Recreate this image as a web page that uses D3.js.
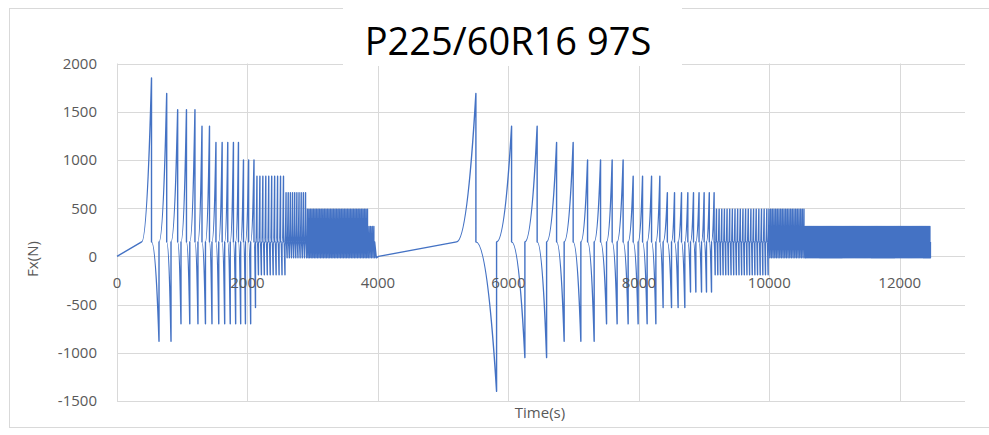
<!DOCTYPE html>
<html>
<head>
<meta charset="utf-8">
<script src="https://cdn.jsdelivr.net/npm/d3@7"></script>
<style>
body { margin: 0; background: #fff; }
text { font-family: "Open Sans", sans-serif; fill: #595959; }
</style>
</head>
<body>
<svg id="chart" width="989" height="435"></svg>
<script>
'use strict'

// axis ticks
const xTicks = [0, 2000, 4000, 6000, 8000, 10000, 12000]
const yTicks = [-1500, -1000, -500, 0, 500, 1000, 1500, 2000]

// level the force sits at between the spikes (N)
const baseForce = 150

// lead-in ramp (time s, Fx N)
const rampT = [0, 378]
const rampV = [0, 150]

// first sweep: single spikes, read one by one
const sweep1PeakT   = [529, 762, 930, 1065, 1195, 1303, 1418, 1517, 1612, 1698, 1785, 1862, 1939, 2018, 2100]
const sweep1PeakV   = [1850, 1690, 1520, 1520, 1520, 1350, 1350, 1180, 1180, 1180, 1180, 1180, 1000, 1000, 1000]
const sweep1TroughT = [644, 828, 981, 1116, 1241, 1356, 1456, 1560, 1651, 1736, 1819, 1896, 1969, 2049, 2123]
const sweep1TroughV = [-880, -880, -700, -700, -700, -700, -700, -700, -700, -700, -700, -700, -700, -700, -530]

// pause between the two sweeps
const restT = [3975, 4010, 5206]
const restV = [-15, 0, 150]

// second sweep
const sweep2PeakT   = [5502, 6049, 6441, 6739, 6993, 7214, 7413, 7591, 7759, 7913, 8057, 8195, 8322, 8437, 8547, 8654, 8751, 8838, 8923, 9001, 9080, 9154]
const sweep2PeakV   = [1690, 1350, 1350, 1180, 1180, 1000, 1000, 1000, 1000, 830, 830, 830, 830, 660, 660, 660, 660, 660, 660, 660, 660, 660]
const sweep2TroughT = [5819, 6253, 6586, 6855, 7111, 7315, 7505, 7667, 7836, 7989, 8127, 8261, 8372, 8501, 8602, 8705, 8792, 8874, 8961, 9037, 9114, 9170]
const sweep2TroughV = [-1400, -1050, -1050, -880, -880, -880, -700, -700, -700, -700, -700, -700, -530, -530, -530, -530, -370, -370, -370, -370, -370, -190]

// dense stretches (too tight to read cycle by cycle): extent, cycle count, levels
const blockStart  = [2123, 2575, 2907, 3852, 9170, 9982, 10544]
const blockEnd    = [2575, 2907, 3852, 3950, 9982, 10544, 12470]
const blockCycles = [10, 10, 40, 4, 20, 22, 120]
const blockPeak   = [830, 660, 490, 310, 490, 490, 310]
const blockTrough = [-190, -15, -15, -15, -190, -15, -15]

const svg = d3.select('#chart')

const x = d3.scaleLinear().domain([0, 13000]).range([117, 965])
const y = d3.scaleLinear().domain([-1500, 2000]).range([401, 63.5])

// chart area border
svg.append('rect')
  .attr('x', 9.5).attr('y', 8.5)
  .attr('width', 990).attr('height', 419)
  .attr('fill', 'none').attr('stroke', '#d9d9d9')

// grid lines
svg.append('g').selectAll('line')
  .data(yTicks)
  .join('line')
    .attr('x1', x(0)).attr('x2', x(13000))
    .attr('y1', d => Math.round(y(d)) + 0.5).attr('y2', d => Math.round(y(d)) + 0.5)
    .attr('stroke', '#d9d9d9')
svg.append('g').selectAll('line')
  .data(xTicks)
  .join('line')
    .attr('x1', d => Math.round(x(d)) + 0.5).attr('x2', d => Math.round(x(d)) + 0.5)
    .attr('y1', y(2000)).attr('y2', y(-1500))
    .attr('stroke', '#d9d9d9')

// the signal
const p = d3.path()
p.moveTo(x(rampT[0]), y(rampV[0]))
rampT.forEach((t, i) => p.lineTo(x(t), y(rampV[i])))

function cycle(t0, tp, vp, tt, vt) {
  // creep up to the spike, snap back, dip to the trough, snap back
  p.quadraticCurveTo(x(t0 + 0.55 * (tp - t0)), y(baseForce), x(tp), y(vp))
  p.lineTo(x(tp), y(baseForce))
  p.quadraticCurveTo(x(tp + 0.55 * (tt - tp)), y(baseForce), x(tt), y(vt))
  p.lineTo(x(tt), y(baseForce))
}

function sweep(start, peakT, peakV, troughT, troughV) {
  let t0 = start
  peakT.forEach((tp, i) => {
    cycle(t0, tp, peakV[i], troughT[i], troughV[i])
    t0 = troughT[i]
  })
}

function block(i) {
  const period = (blockEnd[i] - blockStart[i]) / blockCycles[i]
  for (let k = 0; k < blockCycles[i]; k++) {
    const t0 = blockStart[i] + k * period
    cycle(t0, t0 + period / 2, blockPeak[i], t0 + period, blockTrough[i])
  }
}

sweep(rampT[rampT.length - 1], sweep1PeakT, sweep1PeakV, sweep1TroughT, sweep1TroughV)
;[0, 1, 2, 3].forEach(block)
restT.forEach((t, i) => p.lineTo(x(t), y(restV[i])))
sweep(restT[restT.length - 1], sweep2PeakT, sweep2PeakV, sweep2TroughT, sweep2TroughV)
;[4, 5, 6].forEach(block)

svg.append('path')
  .attr('d', p.toString())
  .attr('fill', 'none')
  .attr('stroke', '#4472c4')
  .attr('stroke-width', 1.4)
  .attr('stroke-linejoin', 'round')

// y tick labels
svg.append('g').selectAll('text')
  .data(yTicks)
  .join('text')
    .attr('x', 97)
    .attr('y', d => y(d))
    .attr('dy', '0.36em')
    .attr('text-anchor', 'end')
    .style('font-size', '15px')
    .text(d => d)

// x tick labels (Excel puts them just under the zero line)
svg.append('g').selectAll('text')
  .data(xTicks)
  .join('text')
    .attr('x', d => x(d))
    .attr('y', y(0) + 26)
    .attr('dy', '0.36em')
    .attr('text-anchor', 'middle')
    .style('font-size', '15px')
    .text(d => d)

// axis titles
svg.append('text')
  .attr('transform', 'translate(38,259) rotate(-90)')
  .attr('text-anchor', 'middle')
  .style('font-size', '15px')
  .text('Fx(N)')
svg.append('text')
  .attr('x', 540).attr('y', 418)
  .attr('text-anchor', 'middle')
  .style('font-size', '15px')
  .text('Time(s)')

// title on its white box
svg.append('rect')
  .attr('x', 343).attr('y', 2)
  .attr('width', 339).attr('height', 64)
  .attr('fill', '#fff')
svg.append('text')
  .attr('x', 508).attr('y', 55)
  .attr('text-anchor', 'middle')
  .style('font-size', '38px')
  .style('fill', '#000')
  .text('P225/60R16 97S')
</script>
</body>
</html>
